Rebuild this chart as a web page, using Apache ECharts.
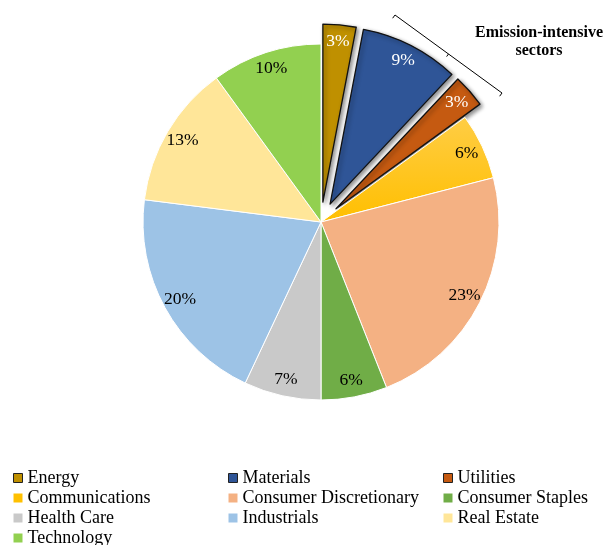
<!DOCTYPE html>
<html>
<head>
<meta charset="utf-8">
<script src="https://cdn.jsdelivr.net/npm/echarts@6/dist/echarts.min.js"></script>
<style>
  html, body { margin: 0; padding: 0; background: #fff; }
  #chart { width: 606px; height: 545px; }
</style>
</head>
<body>
<div id="chart"></div>
<script>
// Sector weights (%), clockwise from 12 o'clock
const sectors = ['Energy', 'Materials', 'Utilities', 'Communications', 'Consumer Discretionary',
  'Consumer Staples', 'Health Care', 'Industrials', 'Real Estate', 'Technology'];
const weights = [3, 9, 3, 6, 23, 6, 7, 20, 13, 10];
const colors = ['#BF9000', '#2F5597', '#C55A11', '#FFC000', '#F4B183',
  '#70AD47', '#C9C9C9', '#9DC3E6', '#FFE699', '#92D050'];
// Emission-intensive sectors pulled out of the pie
const highlighted = ['Energy', 'Materials', 'Utilities'];

// Legend columns
const legendCols = [
  ['Energy', 'Communications', 'Health Care', 'Technology'],
  ['Materials', 'Consumer Discretionary', 'Industrials'],
  ['Utilities', 'Consumer Staples', 'Real Estate']
];

const FONT = '"Liberation Serif", "Times New Roman", serif';
const CX = 321, CY = 222, R = 178, OFFSET = 20;

function fillFor(i) {
  if (sectors[i] === 'Communications') {
    return new echarts.graphic.LinearGradient(0, 0, 0, 1, [
      { offset: 0, color: '#FFCD45' },
      { offset: 1, color: '#FFBF00' }
    ]);
  }
  return colors[i];
}

function sliceStyle(i) {
  const hi = highlighted.includes(sectors[i]);
  return hi
    ? { color: fillFor(i), borderColor: '#111', borderWidth: 1.3,
        shadowColor: 'rgba(0,0,0,0.45)', shadowBlur: 4, shadowOffsetX: 2, shadowOffsetY: 2 }
    : { color: fillFor(i), borderColor: '#fff', borderWidth: 1 };
}

const sliceData = sectors.map((name, i) => {
  const st = sliceStyle(i);
  return {
    name, value: weights[i],
    selected: highlighted.includes(name),
    itemStyle: st,
    select: { itemStyle: st }
  };
});

const labelData = sectors.map((name, i) => {
  const hi = highlighted.includes(name);
  return {
    name, value: weights[i],
    selected: hi,
    itemStyle: { color: 'rgba(0,0,0,0)', borderWidth: 0 },
    select: { itemStyle: { color: 'rgba(0,0,0,0)', borderWidth: 0 } },
    label: { color: hi ? '#fff' : '#000' }
  };
});

const legends = legendCols.map((names, k) => ({
  orient: 'vertical',
  left: [13, 228, 443][k],
  top: 469,
  height: 80,
  padding: 0,
  itemWidth: 9,
  itemHeight: 9,
  itemGap: 2,
  icon: 'rect',
  selectedMode: false,
  textStyle: { fontFamily: FONT, fontSize: 18, color: '#000', lineHeight: 18 },
  data: names.map(n => {
    const i = sectors.indexOf(n);
    const hi = highlighted.includes(n);
    return {
      name: n,
      itemStyle: hi
        ? { color: colors[i], borderColor: '#222', borderWidth: 1 }
        : { color: colors[i], borderWidth: 0 }
    };
  })
}));

// Bracket marking the emission-intensive slices
const p0 = [395, 15], p1 = [502, 93];
const dx = p1[0] - p0[0], dy = p1[1] - p0[1], len = Math.hypot(dx, dy);
const nx = -dy / len * 4, ny = dx / len * 4;
const mid = [(p0[0] + p1[0]) / 2, (p0[1] + p1[1]) / 2];
const lineStyle = { stroke: '#000', lineWidth: 1 };

const chart = echarts.init(document.getElementById('chart'), null, { renderer: 'canvas' });
chart.setOption({
  animation: false,
  legend: legends,
  graphic: [
    { type: 'line', shape: { x1: p0[0], y1: p0[1], x2: p1[0], y2: p1[1] }, style: lineStyle },
    { type: 'line', shape: { x1: p0[0], y1: p0[1], x2: p0[0] + nx, y2: p0[1] + ny }, style: lineStyle },
    { type: 'line', shape: { x1: p1[0], y1: p1[1], x2: p1[0] + nx, y2: p1[1] + ny }, style: lineStyle },
    { type: 'line', shape: { x1: mid[0], y1: mid[1], x2: mid[0] + nx * 0.8, y2: mid[1] + ny * 0.8 }, style: lineStyle },
    {
      type: 'text', x: 539, y: 24,
      style: {
        text: 'Emission-intensive\nsectors', fill: '#000', align: 'center', verticalAlign: 'top',
        font: 'bold 16px ' + FONT, lineHeight: 18
      }
    }
  ],
  series: [
    {
      type: 'pie',
      center: [CX, CY],
      radius: [0, R],
      startAngle: 90,
      clockwise: true,
      selectedMode: 'multiple',
      selectedOffset: OFFSET,
      avoidLabelOverlap: false,
      label: { show: false },
      labelLine: { show: false },
      emphasis: { disabled: true },
      silent: true,
      data: sliceData
    },
    {
      type: 'pie',
      center: [CX, CY],
      radius: [R - 40, R],
      startAngle: 90,
      clockwise: true,
      selectedMode: 'multiple',
      selectedOffset: OFFSET,
      avoidLabelOverlap: false,
      silent: true,
      emphasis: { disabled: true },
      label: {
        show: true, position: 'inside',
        formatter: p => p.value + '%',
        fontFamily: FONT, fontSize: 17.5
      },
      labelLine: { show: false },
      data: labelData
    }
  ]
});
</script>
</body>
</html>
